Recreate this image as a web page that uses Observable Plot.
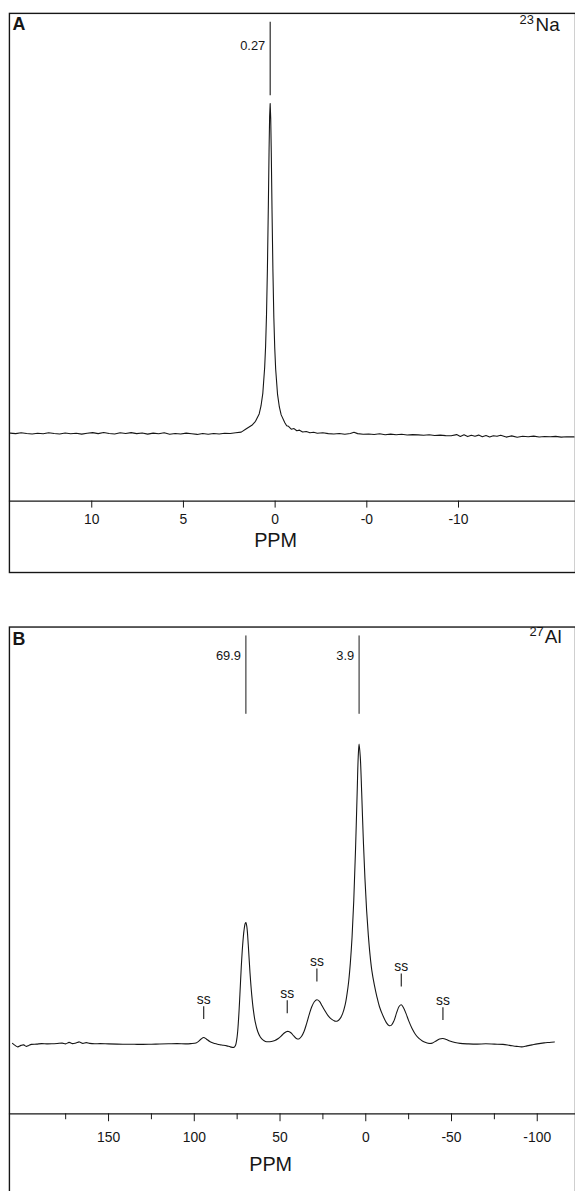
<!DOCTYPE html>
<html><head><meta charset="utf-8">
<script src="https://cdn.jsdelivr.net/npm/d3@7"></script>
<script src="https://cdn.jsdelivr.net/npm/@observablehq/plot@0.6"></script>
<style>
html,body{margin:0;padding:0;background:#fff;overflow:hidden;width:575px;height:1191px}
#chart svg{display:block}
</style></head><body><div id="chart"></div>
<script>
// ---------- Panel A : 23Na ----------
const xDomainA = [14.49, -16.38];
const yDomainA = [-68, 424];
const ticksA = [10, 5, 0, -5, -10];
const tickLabelsA = ["10", "5", "0", "-0", "-10"];
const peakPpmA = [0.27];
const peakLabelA = ["0.27"];
const spectrumA = [
[14.45,0.6],[14.15,0.1],[13.85,0.9],[13.55,0.2],[13.25,-0.3],[12.95,0.5],[12.65,0.0],[12.35,1.0],[12.05,0.3],[11.75,-0.2],
[11.45,0.7],[11.15,0.0],[10.85,0.5],[10.55,-0.4],[10.25,0.4],[9.95,1.1],[9.65,0.1],[9.35,1.3],[9.05,0.3],[8.75,-0.3],
[8.45,0.9],[8.15,0.2],[7.85,1.1],[7.55,0.1],[7.25,0.8],[6.95,-0.4],[6.65,0.6],[6.35,0.0],[6.05,1.0],[5.75,-0.5],
[5.45,0.3],[5.15,-0.3],[4.85,0.6],[4.55,-0.1],[4.25,-0.7],[3.95,0.2],[3.65,-0.5],[3.35,0.3],[3.05,-0.3],[2.75,0.4],
[2.45,0.3],[2.15,0.9],[1.85,1.6],[1.57,5.0],[1.27,8.5],[1.07,12.5],[0.87,20],[0.77,28],[0.67,41],[0.57,67],
[0.52,88],[0.47,120],[0.42,167],[0.37,230],[0.33,287],[0.30,320],[0.27,333],[0.24,318],[0.21,284],[0.17,226],
[0.12,164],[0.07,117],[0.02,86],[-0.03,65],[-0.13,40],[-0.23,27],[-0.33,19],[-0.53,11],[-0.63,8],[-0.73,7.5],
[-0.88,4.6],[-1.03,5.2],[-1.18,3.0],[-1.33,3.6],[-1.5,1.8],[-1.7,2.3],[-1.9,0.9],[-2.1,1.4],[-2.3,0.4],[-2.6,0.9],
[-2.9,0.1],[-3.2,-0.3],[-3.5,0.3],[-3.8,-0.5],[-4.1,0.3],[-4.3,1.5],[-4.5,0.1],[-4.8,-0.6],[-5.1,-0.2],[-5.4,-0.8],
[-5.7,-0.1],[-6.0,-1.0],[-6.3,-0.4],[-6.6,-1.1],[-6.9,-0.6],[-7.2,-1.3],[-7.5,-0.9],[-7.8,-1.2],[-8.1,-1.5],[-8.4,-1.0],
[-8.7,-1.8],[-9.0,-1.4],[-9.3,-1.9],[-9.6,-2.0],[-9.9,-0.9],[-10.1,-2.7],[-10.3,-1.1],[-10.5,-2.9],[-10.7,-1.5],[-10.9,-2.5],
[-11.1,-1.4],[-11.3,-3.1],[-11.5,-1.8],[-11.7,-3.3],[-11.9,-2.0],[-12.1,-2.6],[-12.3,-1.6],[-12.6,-3.4],[-12.9,-2.2],[-13.2,-3.6],
[-13.5,-2.6],[-13.8,-3.0],[-14.1,-2.4],[-14.4,-3.3],[-14.7,-2.8],[-15.0,-3.1],[-15.3,-2.7],[-15.6,-3.4],[-15.9,-3.0],[-16.3,-3.2]
];

// ---------- Panel B : 27Al ----------
const xDomainB = [207.8, -122.3];
const yDomainB = [-70, 421];
const ticksB = [150, 100, 50, 0, -50, -100];
const tickLabelsB = ["150", "100", "50", "0", "-50", "-100"];
const minorTicksB = [175, 125, 75, 25, -25, -75];
const peakPpmB = [69.9, 3.9];
const peakLabelB = ["69.9", "3.9"];
const ssPpm = [94.5, 45.8, 28.5, -20.7, -45];
const ssPeakHeight = [7, 13, 45, 40, 6];
const spectrumB = [
[206,1],[204.5,-1],[203,-2.5],[201,-1],[199.5,-0.5],[198,-2],[196.5,-1],[195,0],[192,0.3],[189,0.8],
[186,0.5],[183,0.6],[180,0.9],[177,1.3],[175,0.5],[173,2],[171,0.8],[169,1.5],[167,2.5],[165,1],
[163,1.8],[161,1],[158,0.6],[155,0.8],[150,0.5],[145,0.3],[140,0.2],[135,0.1],[130,0],[125,0.2],
[120,0.4],[115,0.6],[110,0.8],[105,0.5],[102,0.8],[99,1.5],[97.5,3],[96,5.5],[94.5,7],[93,5.5],
[91,3],[89,1.5],[87,0.5],[85,-0.3],[83,-0.8],[81,-1.5],[79,-2.5],[77,-3],[76,-1],[75,8],
[74.2,25],[73.4,50],[72.6,78],[71.8,100],[71,115],[70.3,122],[69.9,123],[69.3,118],[68.5,100],[67.5,72],
[66.5,50],[65.5,34],[64.5,23],[63,13],[61.5,7.5],[60,4.5],[58.5,3],[57,2.6],[55,3],[53,4],
[51,6],[49,9],[47.5,11.5],[46,13],[45,13],[43.5,11.5],[42,8.5],[40.5,6],[39,5.5],[37.5,8],
[36,13],[34.5,21],[33,30],[31.5,38],[30,43],[28.5,45],[27,43.5],[25.5,39],[24,34.5],[22,29],
[20,25.5],[18,23.5],[16.5,23.5],[15,26],[13.5,31],[12,40],[11,50],[10,63],[9,82],[8,108],
[7,145],[6,195],[5,255],[4.4,290],[3.9,303],[3.2,290],[2.4,255],[1.5,210],[0.5,168],[-0.5,135],
[-1.5,110],[-2.5,90],[-3.5,75],[-5,60],[-6.5,48],[-8,38],[-10,29],[-12,22],[-13.5,19],[-15,19.5],
[-16.5,24],[-18,32],[-19.5,38.5],[-20.7,40],[-22,37],[-23.5,31],[-25,24],[-27,16],[-29,10],[-31,6],
[-33,3.5],[-35,2],[-37,1],[-39,1.5],[-41,3.5],[-43,5.5],[-45,6],[-47,5],[-49,3.5],[-52,2],
[-55,1],[-60,0.5],[-65,0.3],[-70,0.6],[-75,0.3],[-80,0],[-84,-1],[-88,-2],[-91,-2.5],[-94,-1.5],
[-97,-0.5],[-100,0.5],[-104,1.5],[-107,2],[-110,2.5]
];

// ---------- drawing ----------
const font = "'Liberation Sans', Arial, Helvetica, sans-serif";
const ink = "#161616";
const peaksA = peakPpmA.map((p, i) => ({ppm: p, label: peakLabelA[i]}));
const peaksB = peakPpmB.map((p, i) => ({ppm: p, label: peakLabelB[i]}));
const ssB = ssPpm.map((p, i) => ({ppm: p, h: ssPeakHeight[i]}));

const plotA = Plot.plot({
  width: 580, height: 579,
  marginLeft: 9, marginRight: 0, marginTop: 13, marginBottom: 74,
  style: {fontFamily: font, fontSize: "14px", color: ink, background: "white", overflow: "visible"},
  x: {domain: xDomainA},
  y: {domain: yDomainA, axis: null},
  marks: [
    Plot.frame({stroke: ink, strokeWidth: 1.4, insetBottom: -72}),
    Plot.ruleY([yDomainA[0]], {stroke: ink, strokeWidth: 1.3}),
    Plot.axisX(ticksA, {tickSize: 7, tickPadding: 6, stroke: ink, fill: ink, fontSize: 14,
      tickFormat: d => tickLabelsA[ticksA.indexOf(d)], label: null}),
    Plot.line(spectrumA, {x: d => d[0], y: d => d[1], stroke: ink, strokeWidth: 1.1}),
    Plot.ruleX(peaksA, {x: "ppm", y1: 341, y2: 415, stroke: ink, strokeWidth: 1.1}),
    Plot.text(peaksA, {x: "ppm", y: 391, text: "label", textAnchor: "end", dx: -5, fontSize: 13, fill: ink}),
    Plot.text(["A"], {text: d => d, frameAnchor: "top-left", dx: 3, dy: 4, lineAnchor: "top", fontWeight: "bold", fontSize: 18, fill: ink}),
    Plot.text(["Na"], {text: d => d, frameAnchor: "top-right", dx: -16, dy: 4, lineAnchor: "top", textAnchor: "end", fontSize: 19, fill: ink}),
    Plot.text(["23"], {text: d => d, frameAnchor: "top-right", dx: -42, dy: 1, lineAnchor: "top", textAnchor: "end", fontSize: 13, fill: ink}),
    Plot.text(["PPM"], {text: d => d, frameAnchor: "bottom", dx: -17, dy: 46, fontSize: 20, fill: ink})
  ]
});

const plotB = Plot.plot({
  width: 580, height: 624,
  marginLeft: 9, marginRight: 0, marginTop: 53, marginBottom: 80,
  style: {fontFamily: font, fontSize: "14px", color: ink, background: "white", overflow: "visible"},
  x: {domain: xDomainB},
  y: {domain: yDomainB, axis: null},
  marks: [
    Plot.frame({stroke: ink, strokeWidth: 1.4, insetBottom: -95}),
    Plot.ruleY([yDomainB[0]], {stroke: ink, strokeWidth: 1.3}),
    Plot.axisX(minorTicksB, {tickSize: 6, stroke: ink, tickFormat: () => "", label: null}),
    Plot.axisX(ticksB, {tickSize: 8, tickPadding: 11, stroke: ink, fill: ink, fontSize: 14,
      tickFormat: d => tickLabelsB[ticksB.indexOf(d)], label: null}),
    Plot.line(spectrumB, {x: d => d[0], y: d => d[1], stroke: ink, strokeWidth: 1.1, curve: "catmull-rom"}),
    Plot.ruleX(peaksB, {x: "ppm", y1: 333, y2: 412, stroke: ink, strokeWidth: 1}),
    Plot.text(peaksB, {x: "ppm", y: 392, text: "label", textAnchor: "end", dx: -5, fontSize: 13, fill: ink}),
    Plot.ruleX(ssB, {x: "ppm", y1: d => d.h + 18, y2: d => d.h + 31, stroke: ink, strokeWidth: 1.1}),
    Plot.text(ssB, {x: "ppm", y: d => d.h + 31, text: () => "ss", dy: -3, lineAnchor: "bottom", fontSize: 14, fill: ink}),
    Plot.text(["B"], {text: d => d, frameAnchor: "top-left", dx: 3, dy: 5, lineAnchor: "top", fontWeight: "bold", fontSize: 18, fill: ink}),
    Plot.text(["Al"], {text: d => d, frameAnchor: "top-right", dx: -14, dy: 3, lineAnchor: "top", textAnchor: "end", fontSize: 19, fill: ink}),
    Plot.text(["27"], {text: d => d, frameAnchor: "top-right", dx: -32, dy: 0, lineAnchor: "top", textAnchor: "end", fontSize: 13, fill: ink}),
    Plot.text(["PPM"], {text: d => d, frameAnchor: "bottom", dx: -22, dy: 58, fontSize: 20, fill: ink})
  ]
});

const root = document.getElementById("chart");
root.appendChild(plotA);
root.appendChild(plotB);
</script>
</body></html>
